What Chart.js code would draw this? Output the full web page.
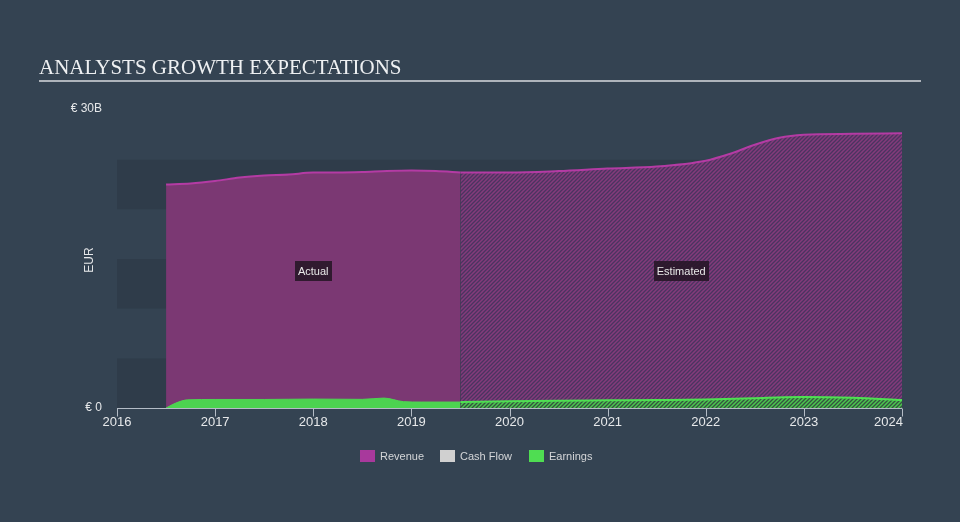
<!DOCTYPE html>
<html><head><meta charset="utf-8">
<script src="https://cdn.jsdelivr.net/npm/chart.js@4"></script>
<style>
html,body{margin:0;padding:0;background:#344352;}
#wrap{position:relative;width:960px;height:522px;}
canvas{display:block;}
</style></head>
<body><div id="wrap"><canvas id="c" width="960" height="522"></canvas></div>
<script>
// ---- data (EUR billions) ----
const yearTicks = [2016, 2017, 2018, 2019, 2020, 2021, 2022, 2023, 2024];
const revenueActualX = [2016.5, 2016.75, 2017, 2017.25, 2017.5, 2017.75, 2018, 2018.25, 2018.5, 2018.75, 2019, 2019.25, 2019.5];
const revenueActual  = [22.5, 22.6, 22.85, 23.2, 23.4, 23.5, 23.7, 23.7, 23.75, 23.85, 23.9, 23.85, 23.7];
const revenueEstX = [2019.5, 2020, 2020.5, 2021, 2021.5, 2022, 2022.25, 2022.5, 2022.75, 2023, 2023.5, 2024];
const revenueEst  = [23.7, 23.7, 23.85, 24.1, 24.3, 24.9, 25.6, 26.5, 27.2, 27.5, 27.6, 27.65];
const earningsActualX = [2016.5, 2016.6, 2016.72, 2017, 2017.5, 2018, 2018.5, 2018.72, 2018.92, 2019.1, 2019.5];
const earningsActual  = [0, 0.5, 0.82, 0.86, 0.86, 0.9, 0.87, 1.0, 0.64, 0.6, 0.6];
const earningsEstX = [2019.5, 2020, 2020.5, 2021, 2021.5, 2022, 2022.5, 2022.8, 2023, 2023.5, 2024];
const earningsEst  = [0.6, 0.68, 0.74, 0.77, 0.8, 0.85, 0.98, 1.08, 1.1, 1.02, 0.8];
const cashFlowX = [];
const cashFlow  = [];
const yTickLabels = ['€ 0', '€ 30B'];
const yTickValues = [0, 30];
const legendLabels = ['Revenue', 'Cash Flow', 'Earnings'];
const legendColors = ['#a8399c', '#d0d0d0', '#4fdd52'];

const pts = (xs, ys) => xs.map((x, i) => ({x: x, y: ys[i]}));

function hatch(base, stripe, lw) {
  const s = 4;
  const c = document.createElement('canvas');
  c.width = s; c.height = s;
  const g = c.getContext('2d');
  g.fillStyle = base; g.fillRect(0, 0, s, s);
  g.strokeStyle = stripe; g.lineWidth = lw;
  g.beginPath();
  g.moveTo(-1, s + 1); g.lineTo(s + 1, -1);
  g.moveTo(-1, 1); g.lineTo(1, -1);
  g.moveTo(s - 1, s + 1); g.lineTo(s + 1, s - 1);
  g.stroke();
  return document.getElementById('c').getContext('2d').createPattern(c, 'repeat');
}
const revHatch = hatch('#843b7b', '#4a3460', 1.3);
const earnHatch = hatch('#4cc64f', '#34523f', 1.3);

const decor = {
  id: 'decor',
  beforeDatasetsDraw(chart) {
    const {ctx, chartArea: a, scales: {y}} = chart;
    ctx.save();
    ctx.fillStyle = 'rgba(0,0,0,0.09)';
    for (let v = 0; v < 25; v += 10) {
      const t = y.getPixelForValue(v + 5), b = y.getPixelForValue(v);
      ctx.fillRect(a.left, t, a.right - a.left, b - t);
    }
    ctx.restore();
  },
  afterDatasetsDraw(chart) {
    const {ctx, chartArea: a, scales: {x, y}} = chart;
    ctx.save();
    // x axis
    ctx.strokeStyle = '#b4bcc6'; ctx.lineWidth = 1;
    const y0 = Math.round(y.getPixelForValue(0)) + 0.5;
    ctx.beginPath(); ctx.moveTo(a.left, y0); ctx.lineTo(a.right, y0);
    yearTicks.forEach(t => {
      const px = Math.round(x.getPixelForValue(t)) + 0.5;
      ctx.moveTo(px, y0); ctx.lineTo(px, y0 + 8);
    });
    ctx.stroke();
    ctx.fillStyle = '#e6e8ea';
    ctx.font = '13px "Liberation Sans", Arial, sans-serif';
    ctx.textBaseline = 'middle';
    yearTicks.forEach((t, i) => {
      const px = x.getPixelForValue(t);
      ctx.textAlign = (i === yearTicks.length - 1) ? 'right' : 'center';
      ctx.fillText(String(t), px + (i === yearTicks.length - 1 ? 1 : 0), y0 + 14);
    });
    // y labels
    ctx.font = '12px "Liberation Sans", Arial, sans-serif';
    ctx.textAlign = 'right';
    yTickValues.forEach((v, i) => {
      ctx.fillText(yTickLabels[i], 102, y.getPixelForValue(v) - (i === 1 ? 1 : 0));
    });
    ctx.save();
    ctx.translate(90, 260); ctx.rotate(-Math.PI / 2);
    ctx.textAlign = 'center';
    ctx.fillText('EUR', 0, 0);
    ctx.restore();
    // annotation boxes
    ctx.font = '11px "Liberation Sans", Arial, sans-serif';
    ctx.textAlign = 'center';
    const boxes = [['Actual', (2016.5 + 2019.5) / 2], ['Estimated', (2019.5 + 2024) / 2]];
    boxes.forEach(([txt, xv]) => {
      const cx = x.getPixelForValue(xv), cy = 271;
      const w = ctx.measureText(txt).width + 6, h = 20;
      ctx.fillStyle = 'rgba(38,22,38,0.88)';
      ctx.fillRect(Math.round(cx - w / 2), cy - h / 2, Math.round(w), h);
      ctx.fillStyle = '#e8e8e8';
      ctx.fillText(txt, cx, cy + 1);
    });
    // title
    ctx.textAlign = 'left';
    ctx.fillStyle = '#eef0f2';
    ctx.font = '21px "Liberation Serif", "Times New Roman", serif';
    ctx.textBaseline = 'alphabetic';
    ctx.fillText('ANALYSTS GROWTH EXPECTATIONS', 39, 74);
    ctx.fillStyle = '#aeb4bb';
    ctx.fillRect(39, 80, 882, 2);
    // legend
    ctx.font = '11px "Liberation Sans", Arial, sans-serif';
    ctx.textBaseline = 'middle';
    const lx = [360, 440, 529];
    legendLabels.forEach((l, i) => {
      ctx.fillStyle = legendColors[i];
      ctx.fillRect(lx[i], 450, 15, 12);
      ctx.fillStyle = '#d4d6d8';
      ctx.fillText(l, lx[i] + 20, 456.5);
    });
    ctx.restore();
  }
};

new Chart(document.getElementById('c'), {
  type: 'line',
  data: {
    datasets: [
      {label: 'Earnings', data: pts(earningsActualX, earningsActual), borderColor: '#4fd352', backgroundColor: '#4cd350', fill: 'origin', borderWidth: 1, order: 1},
      {label: 'Earnings est', data: pts(earningsEstX, earningsEst), borderColor: '#4fe052', backgroundColor: earnHatch, fill: 'origin', borderWidth: 2, order: 1},
      {label: 'Cash Flow', data: pts(cashFlowX, cashFlow), borderColor: '#d0d0d0', backgroundColor: '#d0d0d0', fill: 'origin', borderWidth: 2, order: 1.5},
      {label: 'Revenue', data: pts(revenueActualX, revenueActual), borderColor: '#b43ba4', backgroundColor: '#7b3873', fill: 'origin', borderWidth: 2, order: 2},
      {label: 'Revenue est', data: pts(revenueEstX, revenueEst), borderColor: '#b43ba4', backgroundColor: revHatch, fill: 'origin', borderWidth: 2, order: 2}
    ]
  },
  options: {
    responsive: false,
    animation: false,
    layout: {padding: {left: 117, right: 58, top: 110, bottom: 114}},
    elements: {point: {radius: 0}, line: {cubicInterpolationMode: 'monotone'}},
    scales: {
      x: {type: 'linear', min: 2016, max: 2024, display: false},
      y: {min: 0, max: 30, display: false}
    },
    plugins: {legend: {display: false}, tooltip: {enabled: false}}
  },
  plugins: [decor]
});
</script>
</body></html>
